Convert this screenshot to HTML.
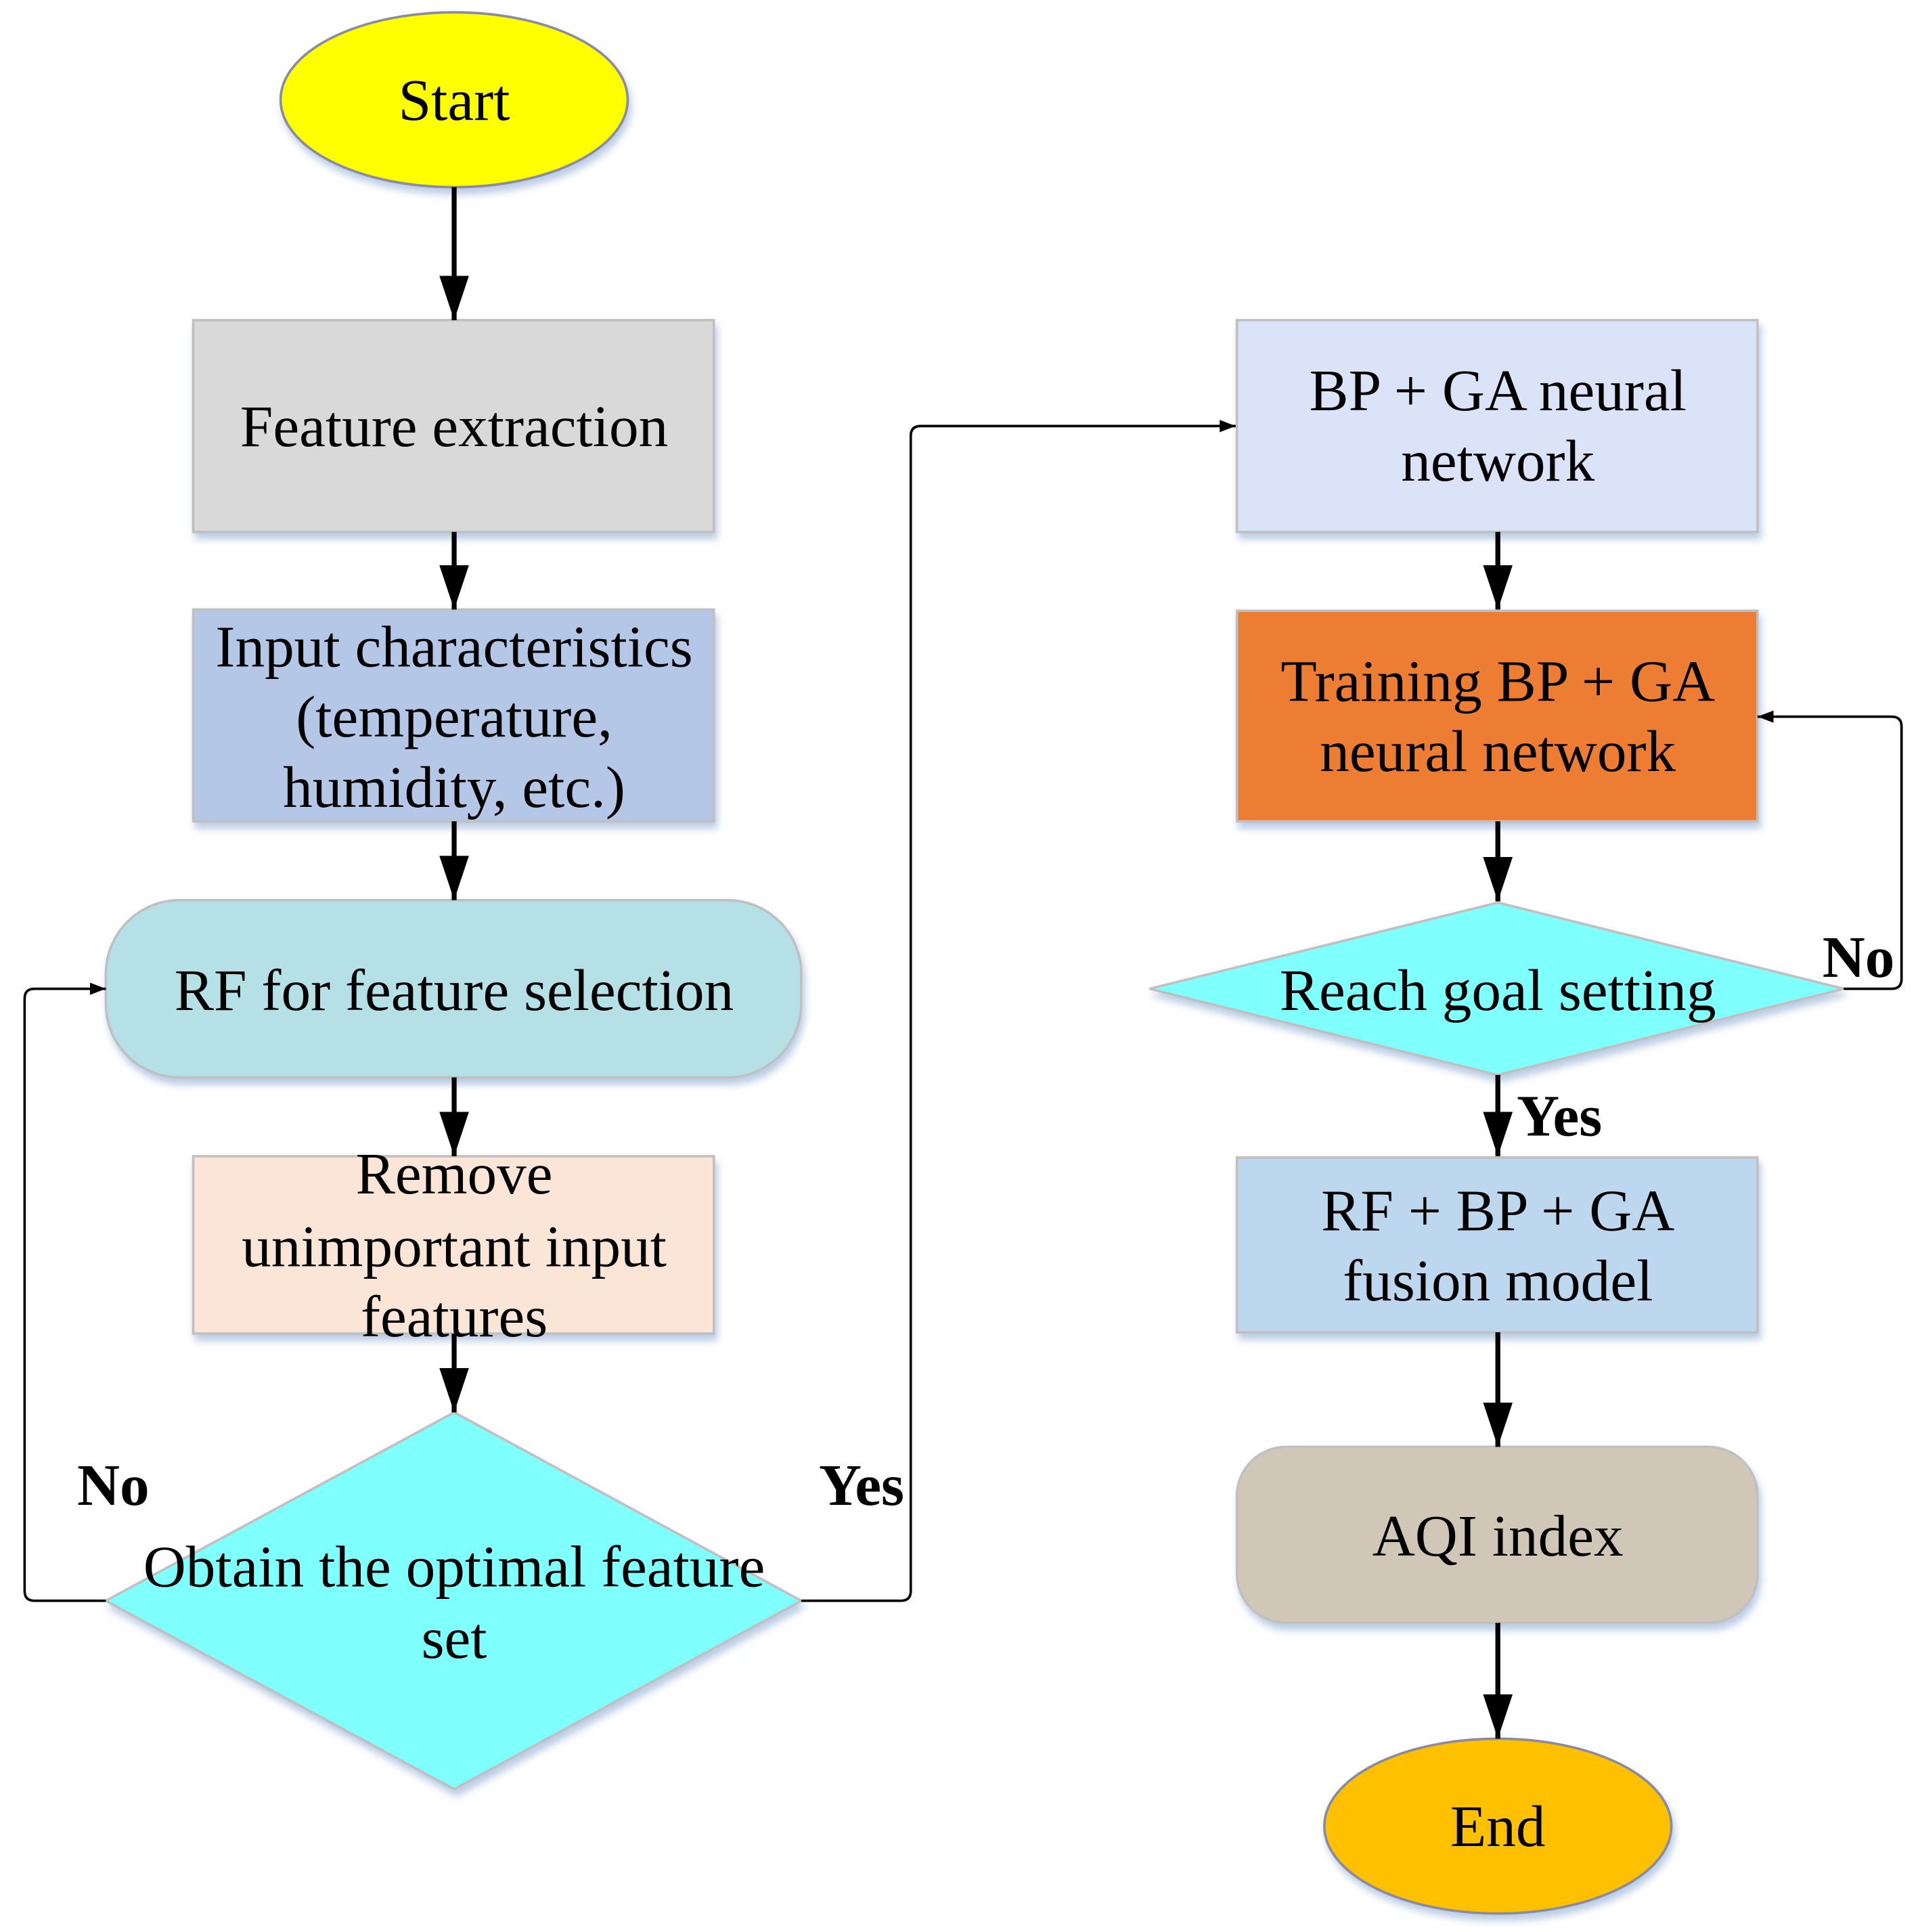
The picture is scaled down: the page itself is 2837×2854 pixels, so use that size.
<!DOCTYPE html>
<html><head><meta charset="utf-8"><style>html,body{margin:0;padding:0;background:#fff}svg{display:block}</style></head>
<body>
<svg width="2837" height="2854" viewBox="0 0 1560 1569" preserveAspectRatio="none" xmlns="http://www.w3.org/2000/svg">
<defs>
<marker id="a" markerWidth="13" markerHeight="10" refX="13" refY="5" orient="auto" markerUnits="userSpaceOnUse" viewBox="0 0 13 10"><path d="M0,0L13,5L0,10z" fill="#000"/></marker>
<marker id="b" markerWidth="36" markerHeight="24" refX="36" refY="12" orient="auto" markerUnits="userSpaceOnUse" viewBox="0 0 36 24"><path d="M0,0L36,12L0,24z" fill="#000"/></marker>
<filter id="s" x="-10%" y="-10%" width="120%" height="130%"><feDropShadow dx="2" dy="5" stdDeviation="3" flood-color="#9db6d9" flood-opacity="0.7"/></filter>
</defs>
<g stroke="#c0c0c0" stroke-width="2" filter="url(#s)">
<ellipse cx="369" cy="81" rx="141" ry="71" fill="#FFFF00" stroke="#8a8aa0"/>
<rect x="157" y="260" width="423" height="172" fill="#D9D9D9"/>
<rect x="157" y="495" width="423" height="172" fill="#B4C7E7"/>
<rect x="86" y="731" width="565" height="144" rx="60" fill="#B4E0E6"/>
<rect x="157" y="939" width="423" height="144" fill="#FBE5D6"/>
<path d="M369,1147L651,1300L369,1453L86,1300z" fill="#80FFFF"/>
<rect x="1005" y="260" width="423" height="172" fill="#DAE3F8"/>
<rect x="1005" y="496" width="423" height="171" fill="#ED7D31"/>
<path d="M1217,733L1498,803L1217,873L934,803z" fill="#80FFFF"/>
<rect x="1005" y="940" width="423" height="142" fill="#BDD7EE"/>
<rect x="1005" y="1175" width="423" height="143" rx="40" fill="#D0C7B7"/>
<ellipse cx="1217" cy="1483" rx="141" ry="71" fill="#FFC000" stroke="#8a8aa0"/>
</g>
<g stroke="#000" stroke-width="4" fill="none">
<line x1="369" y1="152" x2="369" y2="260" marker-end="url(#b)"/>
<line x1="369" y1="432" x2="369" y2="495" marker-end="url(#b)"/>
<line x1="369" y1="667" x2="369" y2="731" marker-end="url(#b)"/>
<line x1="369" y1="875" x2="369" y2="939" marker-end="url(#b)"/>
<line x1="369" y1="1083" x2="369" y2="1147" marker-end="url(#b)"/>
<line x1="1217" y1="432" x2="1217" y2="495" marker-end="url(#b)"/>
<line x1="1217" y1="667" x2="1217" y2="732" marker-end="url(#b)"/>
<line x1="1217" y1="873" x2="1217" y2="939" marker-end="url(#b)"/>
<line x1="1217" y1="1082" x2="1217" y2="1175" marker-end="url(#b)"/>
<line x1="1217" y1="1318" x2="1217" y2="1412" marker-end="url(#b)"/>
</g>
<g stroke="#000" stroke-width="2" fill="none">
<path d="M86,1300H28Q20,1300 20,1292V811Q20,803 28,803H86" marker-end="url(#a)"/>
<path d="M651,1300H732Q740,1300 740,1292V354Q740,346 748,346H1004" marker-end="url(#a)"/>
<path d="M1498,803H1537Q1545,803 1545,795V590Q1545,582 1537,582H1428" marker-end="url(#a)"/>
</g>
<g font-family="Liberation Serif, serif" font-size="48" text-anchor="middle" dominant-baseline="central" fill="#000">
<text x="369" y="81">Start</text>
<text x="369" y="346">Feature extraction</text>
<text x="369" y="525">Input characteristics</text>
<text x="369" y="582">(temperature,</text>
<text x="369" y="639">humidity, etc.)</text>
<text x="369" y="804">RF for feature selection</text>
<text x="369" y="953">Remove</text>
<text x="369" y="1012">unimportant input</text>
<text x="369" y="1069">features</text>
<text x="369" y="1272">Obtain the optimal feature</text>
<text x="369" y="1330">set</text>
<text x="1217" y="317">BP + GA neural</text>
<text x="1217" y="374">network</text>
<text x="1217" y="553">Training BP + GA</text>
<text x="1217" y="610">neural network</text>
<text x="1217" y="804">Reach goal setting</text>
<text x="1217" y="983">RF + BP + GA</text>
<text x="1217" y="1040">fusion model</text>
<text x="1217" y="1247">AQI index</text>
<text x="1217" y="1483">End</text>
<g font-weight="bold">
<text x="92" y="1206">No</text>
<text x="700" y="1206">Yes</text>
<text x="1510" y="777">No</text>
<text x="1267" y="906">Yes</text>
</g>
</g>
</svg>
</body></html>
